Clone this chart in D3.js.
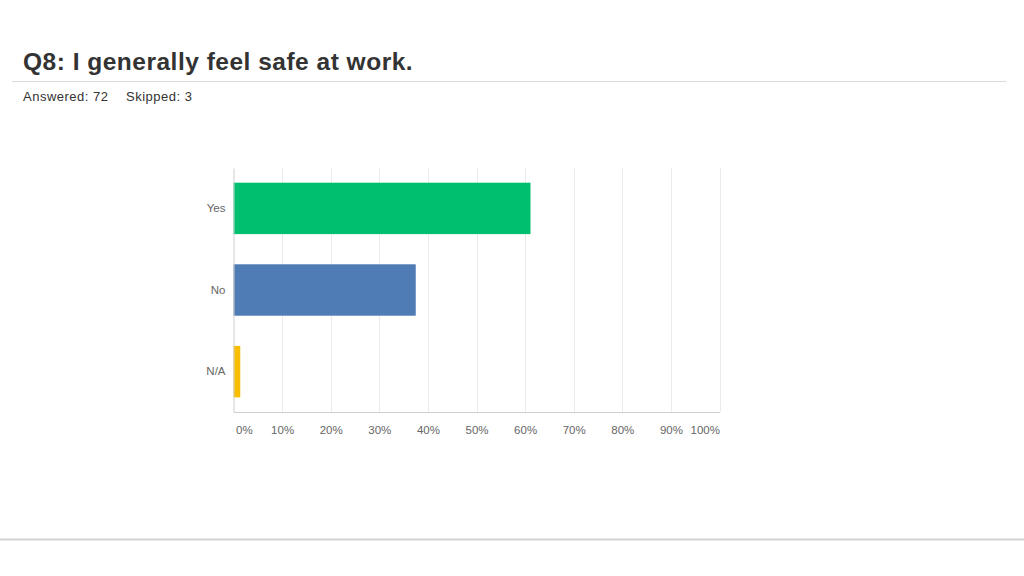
<!DOCTYPE html>
<html lang="en">
  <head>
    <meta charset="UTF-8" />
    <title>Q8: I generally feel safe at work.</title>
    <style>
      body {
        margin: 0;
        background: #fff;
      }
    </style>
  </head>
  <body>
    <div id="chart"></div>

    <script src="https://cdn.jsdelivr.net/npm/d3@7/dist/d3.min.js"></script>

    <script>
      ////////////////////////////// Data //////////////////////////////
      var categories = ["Yes", "No", "N/A"];
      var percents = [61.11, 37.5, 1.39];
      var barColors = ["#00bf6f", "#507cb6", "#f9be00"];
      var tickValues = [0, 10, 20, 30, 40, 50, 60, 70, 80, 90, 100];
      var answered = 72,
        skipped = 3;

      var width = 1024,
        height = 576;

      var svg = d3
        .select("#chart")
        .append("svg")
        .attr("width", width)
        .attr("height", height)
        .style("font-family", "'Liberation Sans', Arial, sans-serif");

      //Header
      svg
        .append("text")
        .attr("x", 23)
        .attr("y", 70)
        .style("font-size", "24.5px")
        .style("font-weight", "bold")
        .style("letter-spacing", "0.5px")
        .style("fill", "#333")
        .text("Q8: I generally feel safe at work.");

      svg
        .append("line")
        .attr("x1", 12)
        .attr("x2", 1006)
        .attr("y1", 81.5)
        .attr("y2", 81.5)
        .style("stroke", "#d9d9d9")
        .style("stroke-width", 1);

      svg
        .append("text")
        .attr("x", 23)
        .attr("y", 101)
        .style("font-size", "13px")
        .style("letter-spacing", "0.5px")
        .style("fill", "#333")
        .text("Answered: " + answered);

      svg
        .append("text")
        .attr("x", 126)
        .attr("y", 101)
        .style("font-size", "13px")
        .style("letter-spacing", "0.5px")
        .style("fill", "#333")
        .text("Skipped: " + skipped);

      //Footer rule
      svg
        .append("line")
        .attr("x1", 0)
        .attr("x2", width)
        .attr("y1", 539.5)
        .attr("y2", 539.5)
        .style("stroke", "#d4d4d4")
        .style("stroke-width", 2);

      ////////////////////////////// Chart //////////////////////////////
      var plot = { left: 233.5, right: 719.5, top: 168, bottom: 412 };

      var x = d3.scaleLinear().domain([0, 100]).range([plot.left, plot.right]);

      var y = d3
        .scaleBand()
        .domain(categories)
        .range([plot.top, plot.bottom])
        .paddingInner(0.37)
        .paddingOuter(0.18);

      var g = svg.append("g");

      //Gridlines
      g.selectAll(".grid")
        .data(tickValues.slice(1))
        .enter()
        .append("line")
        .attr("class", "grid")
        .attr("x1", function(d) { return Math.round(x(d)) + 0.5; })
        .attr("x2", function(d) { return Math.round(x(d)) + 0.5; })
        .attr("y1", plot.top)
        .attr("y2", plot.bottom)
        .style("stroke", "#ebebeb")
        .style("stroke-width", 1);

      //Bars
      g.selectAll(".bar")
        .data(percents)
        .enter()
        .append("rect")
        .attr("class", "bar")
        .attr("x", x(0))
        .attr("y", function(d, i) { return y(categories[i]); })
        .attr("width", function(d) { return x(d) - x(0); })
        .attr("height", y.bandwidth())
        .style("fill", function(d, i) { return barColors[i]; });

      //Y axis (left line + category labels)
      var yAxis = g
        .append("g")
        .attr("transform", "translate(" + plot.left + ",0)")
        .call(d3.axisLeft(y).tickSize(0).tickPadding(8));
      yAxis.select(".domain").attr("stroke", "#cfcfcf");
      yAxis
        .selectAll("text")
        .attr("fill", "#666")
        .style("font-size", "11.5px")
        .style("font-family", "'Liberation Sans', Arial, sans-serif");

      //X axis
      var xAxis = g
        .append("g")
        .attr("transform", "translate(0," + plot.bottom + ")")
        .call(
          d3
            .axisBottom(x)
            .tickValues(tickValues)
            .tickSize(0)
            .tickPadding(14)
            .tickFormat(function(d) { return d + "%"; })
        );
      xAxis.select(".domain").attr("stroke", "#cfcfcf");
      xAxis
        .selectAll("text")
        .attr("fill", "#666")
        .style("font-size", "11.5px")
        .style("font-family", "'Liberation Sans', Arial, sans-serif")
        .attr("text-anchor", function(d, i) {
          if (i === 0) return "start";
          if (i === tickValues.length - 1) return "end";
          return "middle";
        })
        .attr("dx", function(d, i) {
          return i === 0 ? 2 : 0;
        });
    </script>
  </body>
</html>
